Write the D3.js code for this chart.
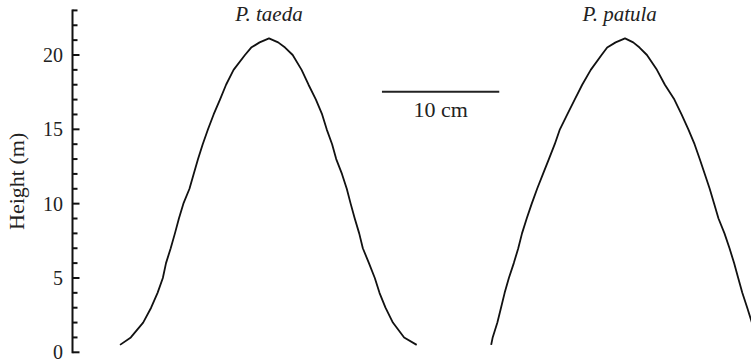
<!DOCTYPE html>
<html>
<head>
<meta charset="utf-8">
<script src="https://cdn.jsdelivr.net/npm/d3@7"></script>
<style>
  html, body { margin: 0; padding: 0; background: #fff; }
  svg { display: block; }
  text { font-family: "Liberation Serif", "Times New Roman", serif; fill: #222; }
</style>
</head>
<body>
<svg id="chart" width="751" height="363"></svg>
<script>
// Stem profiles: radius (cm) on each side of the stem at a given height (m)
const species = ["P. taeda", "P. patula"];
const stemCentre = [0, 30.35];           // cm, horizontal position of each stem axis
const titleCentre = [0, 29.9];           // cm, horizontal position of each species name

const taedaHeight = [0.5, 1, 2, 3, 4, 5, 6, 7, 8, 9, 10, 11, 12, 13, 14, 15, 16, 17, 18, 19, 20, 20.5, 20.85, 21.12];
const taedaLeft   = [12.70, 11.78, 10.73, 10.05, 9.50, 9.05, 8.78, 8.38, 8.02, 7.68, 7.30, 6.78, 6.42, 6.05, 5.65, 5.20, 4.72, 4.18, 3.66, 3.02, 2.05, 1.52, 0.80, 0];
const taedaRight  = [12.59, 11.52, 10.56, 9.93, 9.42, 9.02, 8.52, 8.00, 7.69, 7.31, 6.96, 6.63, 6.22, 5.73, 5.38, 4.92, 4.53, 4.00, 3.37, 2.78, 2.02, 1.37, 0.78, 0];

const patulaHeight = [0.5, 1, 2, 3, 4, 5, 6, 7, 8, 9, 10, 11, 12, 13, 14, 15, 16, 17, 18, 19, 20, 20.5, 20.85, 21.12];
const patulaLeft   = [11.41, 11.28, 10.88, 10.57, 10.26, 9.90, 9.48, 9.10, 8.78, 8.38, 7.95, 7.49, 6.99, 6.49, 5.99, 5.55, 4.92, 4.29, 3.65, 2.92, 2.00, 1.52, 0.80, 0];
const patulaRight  = [11.55, 11.20, 10.82, 10.42, 10.00, 9.65, 9.30, 8.91, 8.48, 7.97, 7.60, 7.22, 6.80, 6.37, 5.93, 5.40, 4.82, 4.21, 3.40, 2.72, 1.87, 1.24, 0.70, 0];

const yTickValues = [0, 5, 10, 15, 20];
const yMinorTicks = d3.range(0, 24, 1);
const scaleBarStart = 9.63;   // cm
const scaleBarLength = 10;    // cm
const scaleBarLabel = "10 cm";
const yLabel = "Height (m)";

const svg = d3.select("#chart");
const axisX = 72.5;

const y = d3.scaleLinear().domain([0, 23]).range([352.3, 10.4]);
const x = d3.scaleLinear().domain([0, 10]).range([269, 269 + 117.3]);

// Each stem drawn as one polyline: up the left side, down the right side
const profiles = [
  { name: species[0], centre: stemCentre[0], title: titleCentre[0], h: taedaHeight, left: taedaLeft, right: taedaRight },
  { name: species[1], centre: stemCentre[1], title: titleCentre[1], h: patulaHeight, left: patulaLeft, right: patulaRight }
];

const line = d3.line().x(d => x(d[0])).y(d => y(d[1]));

profiles.forEach(p => {
  const pts = [];
  p.h.forEach((h, i) => pts.push([p.centre - p.left[i], h]));
  for (let i = p.h.length - 2; i >= 0; i--) pts.push([p.centre + p.right[i], p.h[i]]);
  svg.append("path")
    .attr("d", line(pts))
    .attr("fill", "none")
    .attr("stroke", "#111")
    .attr("stroke-width", 1.8)
    .attr("stroke-linejoin", "round");

  svg.append("text")
    .attr("x", x(p.title))
    .attr("y", 21)
    .attr("text-anchor", "middle")
    .attr("font-style", "italic")
    .attr("font-size", 21)
    .text(p.name);
});

// Y axis with ticks pointing inward
const yAxis = svg.append("g").attr("transform", `translate(${axisX},0)`);
yAxis.append("line")
  .attr("x1", 0).attr("x2", 0)
  .attr("y1", y(23) - 1).attr("y2", y(0) + 1)
  .attr("stroke", "#111").attr("stroke-width", 2);
yAxis.selectAll("line.minor")
  .data(yMinorTicks.filter(v => !yTickValues.includes(v)))
  .join("line")
  .attr("class", "minor")
  .attr("x1", 0).attr("x2", 5)
  .attr("y1", d => y(d)).attr("y2", d => y(d))
  .attr("stroke", "#111").attr("stroke-width", 2);
yAxis.selectAll("line.major")
  .data(yTickValues)
  .join("line")
  .attr("class", "major")
  .attr("x1", 0).attr("x2", 7)
  .attr("y1", d => y(d)).attr("y2", d => y(d))
  .attr("stroke", "#111").attr("stroke-width", 2);
yAxis.selectAll("text.tick")
  .data(yTickValues)
  .join("text")
  .attr("class", "tick")
  .attr("x", -9.5)
  .attr("y", d => y(d))
  .attr("dy", "0.35em")
  .attr("text-anchor", "end")
  .attr("font-size", 20)
  .text(d => d);

svg.append("text")
  .attr("transform", `translate(24,${y(11.5)}) rotate(-90)`)
  .attr("text-anchor", "middle")
  .attr("font-size", 22)
  .text(yLabel);

// Scale bar
svg.append("line")
  .attr("x1", x(scaleBarStart)).attr("x2", x(scaleBarStart + scaleBarLength))
  .attr("y1", 91.7).attr("y2", 91.7)
  .attr("stroke", "#222").attr("stroke-width", 2);
svg.append("text")
  .attr("x", x(scaleBarStart + scaleBarLength / 2))
  .attr("y", 116.5)
  .attr("text-anchor", "middle")
  .attr("font-size", 22)
  .text(scaleBarLabel);
</script>
</body>
</html>
